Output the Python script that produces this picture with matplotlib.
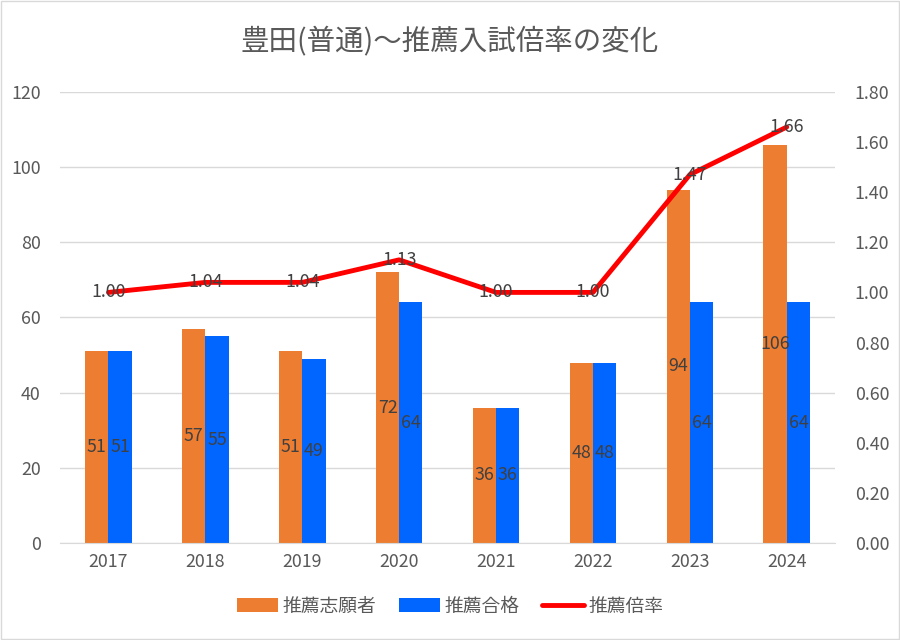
import matplotlib.pyplot as plt
import numpy as np

plt.rcParams['font.family'] = ['Noto Sans CJK JP', 'DejaVu Sans']

years = ["2017", "2018", "2019", "2020", "2021", "2022", "2023", "2024"]
applicants = [51, 57, 51, 72, 36, 48, 94, 106]
passed = [51, 55, 49, 64, 36, 48, 64, 64]
ratio = [1.00, 1.04, 1.04, 1.13, 1.00, 1.00, 1.47, 1.66]

fig = plt.figure(figsize=(9, 6.4), dpi=100)
ax = fig.add_axes([0.0667, 0.1516, 0.8613, 0.7047])
ax2 = ax.twinx()

x = np.arange(len(years))
w = 0.24
gray = "#595959"
label_color = "#404040"
fs = 12.8

b1 = ax.bar(x - w / 2, applicants, w, color="#ED7D31", label="推薦志願者", zorder=2)
b2 = ax.bar(x + w / 2, passed, w, color="#0066FF", label="推薦合格", zorder=2)
ax.bar_label(b1, label_type="center", color=label_color, fontsize=fs)
ax.bar_label(b2, label_type="center", color=label_color, fontsize=fs)

line, = ax2.plot(x, ratio, color="#FF0000", linewidth=3.5, label="推薦倍率",
                 solid_capstyle="round", zorder=3)
for xi, r in zip(x, ratio):
    ax2.text(xi, r, f"{r:.2f}", ha="center", va="center", color=label_color, fontsize=fs)

ax.set_xlim(-0.5, len(years) - 0.5)
ax.set_ylim(0, 120)
ax.set_yticks(range(0, 121, 20))
ax2.set_ylim(0, 1.8)
ax2.set_yticks(np.arange(0, 1.81, 0.2))
ax2.set_yticklabels([f"{v:.2f}" for v in np.arange(0, 1.81, 0.2)])
ax.set_xticks(x)
ax.set_xticklabels(years)

ax.grid(axis="y", color="#D9D9D9", linewidth=1)
ax.set_axisbelow(True)
for a in (ax, ax2):
    for s in a.spines.values():
        s.set_visible(False)
    a.tick_params(length=0, colors=gray, labelsize=fs)
ax.spines["bottom"].set_visible(True)
ax.spines["bottom"].set_color("#D9D9D9")
ax.tick_params(axis="x", pad=7)
ax.tick_params(axis="y", pad=14)
ax2.tick_params(axis="y", pad=14)

fig.text(0.5, 0.935, "豊田(普通)～推薦入試倍率の変化", ha="center", va="center",
         fontsize=20.5, color=gray)

fig.legend(handles=[b1, b2, line], loc="center", bbox_to_anchor=(0.5, 0.053),
           ncol=3, frameon=False, fontsize=13.5, labelcolor=gray,
           handlelength=2.2, columnspacing=1.2, handletextpad=0.25)

fig.patches.append(plt.Rectangle((0.001, 0.001), 0.998, 0.998, transform=fig.transFigure,
                                 fill=False, edgecolor="#D9D9D9", linewidth=1))

fig.savefig("out.png", dpi=100)
